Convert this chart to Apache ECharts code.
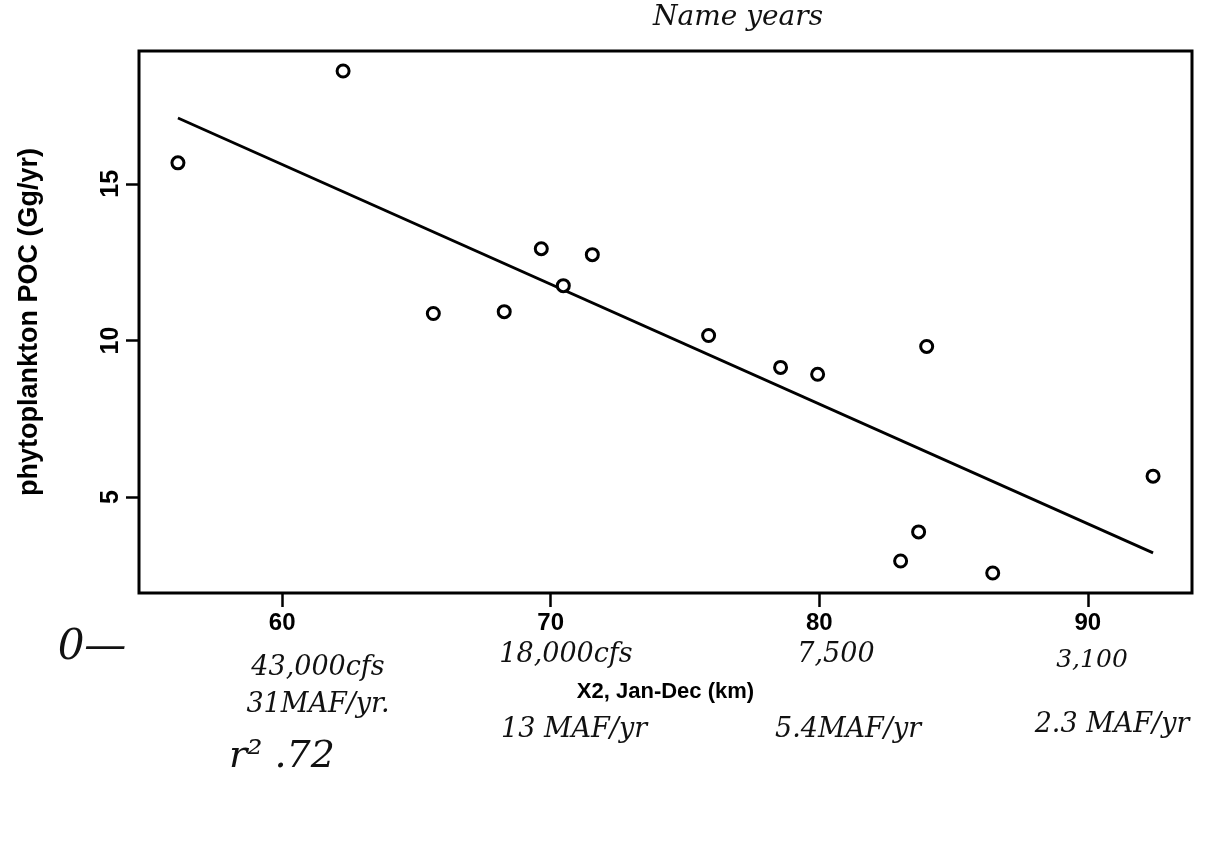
<!DOCTYPE html>
<html>
<head>
<meta charset="utf-8">
<script src="https://cdn.jsdelivr.net/npm/echarts@6/dist/echarts.min.js"></script>
<style>
html,body{margin:0;padding:0;background:#fff;}
#chart{width:1222px;height:845px;}
</style>
</head>
<body>
<div id="chart"></div>
<script>
// X2 position (km), Jan-Dec
var x2Values = [56.12, 62.27, 65.63, 68.27, 69.65, 70.47, 71.55, 75.88, 78.56, 79.94, 84.0, 83.03, 83.7, 86.46, 92.43];
// phytoplankton POC (Gg/yr)
var pocValues = [15.67, 18.6, 10.86, 10.92, 12.93, 11.75, 12.74, 10.16, 9.14, 8.92, 9.81, 2.96, 3.89, 2.58, 5.67];
// fitted regression line endpoints
var trendX = [56.12, 92.43];
var trendY = [17.1, 3.22];
// axis ticks
var xTicks = [60, 70, 80, 90];
var yTicks = [5, 10, 15];
// handwritten annotations
var noteTexts = ['Name years', '0—', '43,000cfs', '31MAF/yr.', 'r² .72', '18,000cfs', '13 MAF/yr', '7,500', '5.4MAF/yr', '3,100', '2.3 MAF/yr'];

var chart = echarts.init(document.getElementById('chart'), null, {renderer: 'canvas'});

var scatterData = x2Values.map(function (x, i) { return [x, pocValues[i]]; });
var lineData = trendX.map(function (x, i) { return [x, trendY[i]]; });

var hand = '"DejaVu Serif", serif';
var notePos = [
  [738, 18, 28], [92, 648, 42], [318, 668, 27], [318, 705, 27], [282, 757, 38],
  [566, 655, 27], [574, 730, 27], [836, 655, 27], [848, 730, 27], [1092, 660, 25], [1112, 725, 27]
];
var graphics = noteTexts.map(function (t, i) {
  return {
    type: 'text', x: notePos[i][0], y: notePos[i][1],
    style: { text: t, fill: '#111', font: 'italic ' + notePos[i][2] + 'px ' + hand, textAlign: 'center', textVerticalAlign: 'middle' }
  };
});

var sans = '"Liberation Sans", Arial, sans-serif';
var option = {
  backgroundColor: '#fff',
  animation: false,
  grid: { left: 139, right: 30, top: 51, bottom: 252, show: true, borderColor: '#000', borderWidth: 3, backgroundColor: 'transparent' },
  xAxis: {
    type: 'value', min: 54.67, max: 93.88,
    name: 'X2, Jan-Dec (km)', nameLocation: 'middle', nameGap: 88,
    nameTextStyle: { fontFamily: sans, fontWeight: 'bold', fontSize: 22, color: '#000' },
    axisLine: { show: false },
    axisTick: { show: true, length: 14, lineStyle: { color: '#000', width: 2.5 }, customValues: xTicks },
    axisLabel: { customValues: xTicks, margin: 18, fontFamily: sans, fontWeight: 'bold', fontSize: 24, color: '#000' },
    splitLine: { show: false }
  },
  yAxis: {
    type: 'value', min: 1.94, max: 19.24,
    name: 'phytoplankton POC (Gg/yr)', nameLocation: 'middle', nameGap: 96, nameRotate: 90,
    nameTextStyle: { fontFamily: sans, fontWeight: 'bold', fontSize: 27, color: '#000' },
    axisLine: { show: false },
    axisTick: { show: true, length: 13, lineStyle: { color: '#000', width: 2.5 }, customValues: yTicks },
    axisLabel: { customValues: yTicks, rotate: 90, margin: 15, fontFamily: sans, fontWeight: 'bold', fontSize: 25, color: '#000' },
    splitLine: { show: false }
  },
  series: [
    {
      type: 'line', data: lineData, symbol: 'none',
      lineStyle: { color: '#000', width: 2.8 }, silent: true, z: 2
    },
    {
      type: 'scatter', data: scatterData, symbol: 'circle', symbolSize: 12,
      itemStyle: { color: '#fff', borderColor: '#000', borderWidth: 3, opacity: 1 }, z: 3
    }
  ],
  graphic: graphics
};
chart.setOption(option);
</script>
</body>
</html>
